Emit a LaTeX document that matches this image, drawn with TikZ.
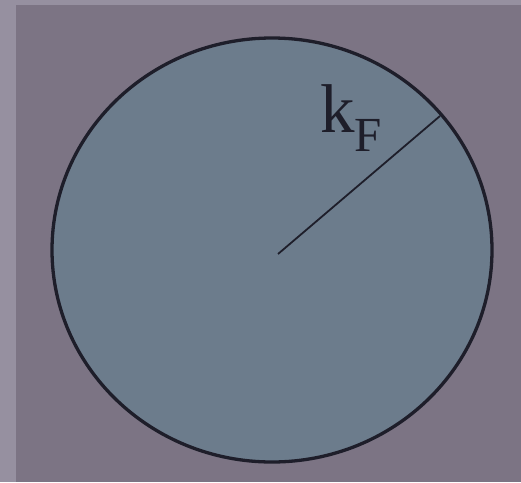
\documentclass[tikz,border=0pt]{standalone}
\usepackage{fontspec}
\setmainfont{Liberation Serif}
\definecolor{bgmain}{RGB}{124,116,132}
\definecolor{bgedge}{RGB}{150,144,160}
\definecolor{sphere}{RGB}{108,124,140}
\definecolor{ink}{RGB}{30,30,42}
\tikzset{
  lbl/.style={inner sep=0pt, text=ink},
}
\begin{document}
\begin{tikzpicture}[x=1pt,y=-1pt]
\useasboundingbox (0,0) rectangle (521,482);
\fill[bgedge] (0,0) rectangle (521,482);
\fill[bgmain] (16,5) rectangle (521,482);
\fill[sphere, draw=ink, line width=3.3pt] (272,250) ellipse [x radius=220, y radius=212];
\coordinate (c) at (278,254);
\coordinate (r) at (440,116);
\draw[ink, line width=1.8pt] (c) -- (r);
\node[lbl, anchor=base west, font=\fontsize{69}{69}\selectfont] (k) at (320,132) {k};
\node[lbl, anchor=base west, font=\fontsize{49}{49}\selectfont] (F) at (354,151) {F};
\end{tikzpicture}
\end{document}
